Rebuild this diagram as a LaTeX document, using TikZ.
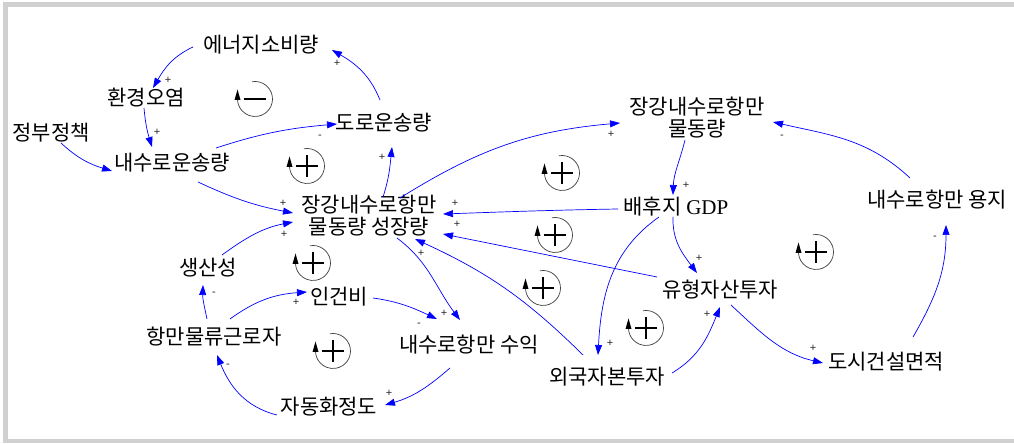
\documentclass[tikz,border=0pt]{standalone}
\usepackage{fontspec}
\setmainfont{Noto Sans CJK KR}
\newfontfamily\latinserif{Liberation Serif}
\newfontfamily\polfont{Liberation Sans}
\usetikzlibrary{arrows.meta}
\definecolor{framegray}{RGB}{208,208,208}
\definecolor{linkblue}{RGB}{0,0,255}
\tikzset{
  var/.style={inner sep=1pt, font=\fontsize{21}{22}\selectfont, align=center, text=black},
  link/.style={draw=linkblue, line width=0.7pt, -{Triangle[length=10pt,width=7pt]}},
  pol/.style={font=\polfont\fontsize{11}{11}\selectfont, text=black!85, inner sep=0pt},
  loopplus/.pic={
    \draw[black!75, line width=0.7pt] (100:17.5pt) arc[start angle=100, end angle=-178, radius=17.5pt];
    \fill[black] (-17.5pt,9.5pt) -- (-20.5pt,-1pt) -- (-14.5pt,-1pt) -- cycle;
    \draw[black, line width=1.4pt] (-11pt,0pt) -- (11pt,0pt) (0pt,-11pt) -- (0pt,11pt);
  },
  loopminus/.pic={
    \draw[black!75, line width=0.7pt] (100:17.5pt) arc[start angle=100, end angle=-178, radius=17.5pt];
    \fill[black] (-17.5pt,9.5pt) -- (-20.5pt,-1pt) -- (-14.5pt,-1pt) -- cycle;
    \draw[black, line width=1.4pt] (-11pt,0pt) -- (11pt,0pt);
  },
}
\begin{document}
\begin{tikzpicture}[x=1pt,y=1pt]
\useasboundingbox (0,0) rectangle (1014,444);
\begin{scope}
\clip (0,0) rectangle (1014,444);
\draw[framegray, line width=4.5pt] (5.3,3) rectangle (1030,439.7);
\end{scope}

% variables
\node[var] (en) at (261,399) {에너지소비량};
\node[var] (env) at (146,346) {환경오염};
\node[var] (gov) at (51,311) {정부정책};
\node[var] (inl) at (172,281) {내수로운송량};
\node[var] (road) at (384,321) {도로운송량};
\node[var] (grow) at (369,228) {장강내수로항만\\물동량 성장량};
\node[var] (vol) at (697,326) {장강내수로항만\\물동량};
\node[var] (gdp) at (676,237) {배후지 {\latinserif GDP}};
\node[var] (land) at (937,244) {내수로항만 용지};
\node[var] (prod) at (208,176) {생산성};
\node[var] (wage) at (339,147) {인건비};
\node[var] (work) at (214,107) {항만물류근로자};
\node[var] (rev) at (469,99) {내수로항만 수익};
\node[var] (auto) at (329,37) {자동화정도};
\node[var] (tang) at (720,154) {유형자산투자};
\node[var] (fdi) at (607,67) {외국자본투자};
\node[var] (city) at (886,82) {도시건설면적};

% loop markers
\pic (L1) at (255,345) {loopminus};
\pic (L2) at (307,278) {loopplus};
\pic (L3) at (562,271) {loopplus};
\pic (L4) at (313,181) {loopplus};
\pic (L5) at (555,209) {loopplus};
\pic (L6) at (543,156) {loopplus};
\pic (L7) at (816,192) {loopplus};
\pic (L8) at (333,93) {loopplus};
\pic (L9) at (646,116) {loopplus};

% links
\draw[link] ([shift={(-68,-2)}]en.center) to[out=205,in=60] node[pol,pos=1,shift={(15,8)}]{+} ([shift={(7,10)}]env.center);
\draw[link] ([shift={(-4,23)}]road.center) to[out=112,in=330] node[pol,pos=1,shift={(5,-13)}]{+} ([shift={(71,-5)}]en.center);
\draw[link] ([shift={(-2,-10)}]env.center) to[out=275,in=107] node[pol,pos=1,shift={(5,15)}]{+} ([shift={(-20,16)}]inl.center);
\draw[link] ([shift={(10,-10)}]gov.center) to[out=317,in=163] ([shift={(-60,-8)}]inl.center);
\draw[link] ([shift={(44,15)}]inl.center) to[out=18,in=185] node[pol,pos=1,shift={(-17,-13)}]{-} ([shift={(-47,-1)}]road.center);
\draw[link] ([shift={(26,-19)}]inl.center) to[out=335,in=169] node[pol,pos=1,shift={(-10,10)}]{+} ([shift={(-76,3)}]grow.center);
\draw[link] ([shift={(14,13)}]prod.center) to[out=36,in=191] node[pol,pos=1,shift={(-9,-12)}]{+} ([shift={(-76,-6)}]grow.center);
\draw[link] ([shift={(14,19)}]grow.center) to[out=72,in=264] node[pol,pos=1,shift={(-10,-10)}]{+} ([shift={(8,-24)}]road.center);
\draw[link] ([shift={(31,18)}]grow.center) to[out=32,in=185] node[pol,pos=1,shift={(-9,-11)}]{+} ([shift={(-77,-5)}]vol.center);
\draw[link] ([shift={(-58,-2)}]gdp.center) to[out=181,in=2] node[pol,pos=1,shift={(12,11)}]{+} ([shift={(74,2)}]grow.center);
\draw[link] ([shift={(-63,13)}]tang.center) -- node[pol,pos=1,shift={(14,10)}]{+} ([shift={(74,-18)}]grow.center);
\draw[link] ([shift={(-24,22)}]fdi.center) to[bend right=10] node[pol,pos=1,shift={(6,-14)}]{+} ([shift={(46,-23)}]grow.center);
\draw[link] ([shift={(28,-22)}]grow.center) to[out=323,in=127] node[pol,pos=1,shift={(-16,7)}]{+} ([shift={(-9,25)}]rev.center);
\draw[link] ([shift={(34,-1)}]wage.center) to[out=352,in=155] node[pol,pos=1,shift={(-18,-6)}]{-} ([shift={(-32,26)}]rev.center);
\draw[link] ([shift={(16,18)}]work.center) to[out=36,in=184] node[pol,pos=1,shift={(-11,-10)}]{+} ([shift={(-32,5)}]wage.center);
\draw[link] ([shift={(-7,18)}]work.center) to[out=102,in=268] node[pol,pos=1,shift={(11,-9)}]{-} ([shift={(-5,-17)}]prod.center);
\draw[link] ([shift={(-19,-23)}]rev.center) to[out=221,in=16] node[pol,pos=1,shift={(4,12)}]{+} ([shift={(56,2)}]auto.center);
\draw[link] ([shift={(-52,-8)}]auto.center) to[out=166,in=292] node[pol,pos=1,shift={(11,-11)}]{-} ([shift={(3,-18)}]work.center);
\draw[link] ([shift={(-12,-22)}]vol.center) to[out=256,in=88] node[pol,pos=1,shift={(13,10)}]{+} ([shift={(-3,12)}]gdp.center);
\draw[link] ([shift={(-27,22)}]land.center) to[out=137,in=347] node[pol,pos=1,shift={(9,-15)}]{-} ([shift={(76,-4)}]vol.center);
\draw[link] ([shift={(-3,-10)}]gdp.center) to[out=268,in=127] node[pol,pos=1,shift={(2,15)}]{+} ([shift={(-23,17)}]tang.center);
\draw[link] ([shift={(-17,-10)}]gdp.center) to[out=215,in=87] node[pol,pos=1,shift={(12,12)}]{+} ([shift={(-9,22)}]fdi.center);
\draw[link] ([shift={(65,4)}]fdi.center) to[out=31,in=248] node[pol,pos=1,shift={(-13,-7)}]{+} ([shift={(0,-17)}]tang.center);
\draw[link] ([shift={(11,-15)}]tang.center) to[out=317,in=167] node[pol,pos=1,shift={(-10,15)}]{+} ([shift={(-63,-1)}]city.center);
\draw[link] ([shift={(27,25)}]city.center) to[out=60,in=270] node[pol,pos=1,shift={(-11,-13)}]{-} ([shift={(9,-25)}]land.center);
\end{tikzpicture}
\end{document}
